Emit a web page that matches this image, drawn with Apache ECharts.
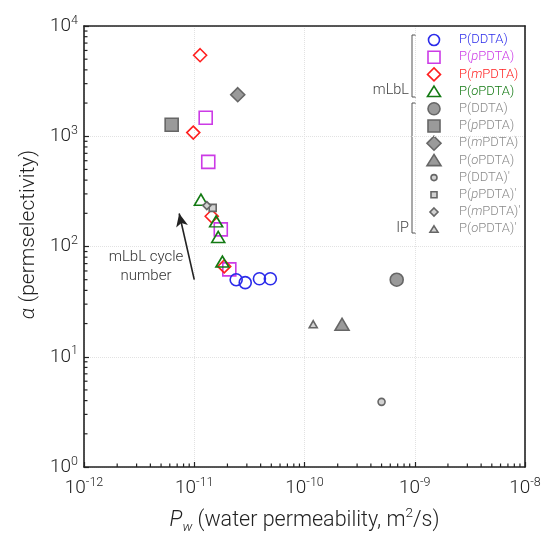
<!DOCTYPE html>
<html><head><meta charset="utf-8">
<script src="https://cdn.jsdelivr.net/npm/echarts@6/dist/echarts.min.js"></script>
<style>html,body{margin:0;padding:0;background:#fff}#c{width:546px;height:540px}</style>
</head><body><div id="c"></div>
<script>
// ---- data (x: water permeability m^2/s, y: permselectivity) ----
const mlblDDTA  = [[2.4e-11, 50], [2.9e-11, 47], [3.9e-11, 51], [4.9e-11, 51]];
const mlblPPDTA = [[1.27e-11, 1470], [1.34e-11, 585], [1.74e-11, 143], [2.08e-11, 62]];
const mlblMPDTA = [[1.13e-11, 5430], [9.8e-12, 1080], [1.44e-11, 188], [1.87e-11, 66]];
const mlblOPDTA = [[1.15e-11, 266], [1.58e-11, 169], [1.65e-11, 122], [1.80e-11, 73]];
const ipDDTA  = [[6.86e-10, 50]];
const ipPPDTA = [[6.24e-12, 1270]];
const ipMPDTA = [[2.48e-11, 2380]];
const ipOPDTA = [[2.19e-10, 19.7]];
const ipDDTAp  = [[5.0e-10, 3.9]];
const ipPPDTAp = [[1.47e-11, 224]];
const ipMPDTAp = [[1.30e-11, 235]];
const ipOPDTAp = [[1.20e-10, 19.7]];
const arrowPath = [[1.0e-11, 50], [7.3e-12, 199]];
const xTickExps = [-12, -11, -10, -9, -8];
const yTickExps = [0, 1, 2, 3, 4];
const legendLabels = [
  ['P(', '', 'DDTA)'], ['P(', 'p', 'PDTA)'], ['P(', 'm', 'PDTA)'], ['P(', 'o', 'PDTA)'],
  ['P(', '', 'DDTA)'], ['P(', 'p', 'PDTA)'], ['P(', 'm', 'PDTA)'], ['P(', 'o', 'PDTA)'],
  ["P(", '', "DDTA)'"], ["P(", 'p', "PDTA)'"], ["P(", 'm', "PDTA)'"], ["P(", 'o', "PDTA)'"]
];

const FONT = "'Helvetica Neue', Roboto, 'Liberation Sans', sans-serif";
const FW = 300;
const BLUE = '#2b2bea', MAG = '#cc3be6', RED = '#ff1f1f', GRN = '#137a13';
const GFILL = '#9a9a9a', GSTROKE = '#666666', SFILL = '#d2d2d2';

const chart = echarts.init(document.getElementById('c'), null, {renderer: 'canvas'});

function sc(name, data, symbol, size, fill, stroke, z) {
  return {
    type: 'scatter', name, data, symbol, symbolSize: size, z: z, silent: true,
    itemStyle: {color: fill, borderColor: stroke, borderWidth: 1.6, opacity: 1}
  };
}

// minor tick positions (log decades x 2..9)
const minorX = [], minorY = [];
for (let e = -12; e < -8; e++) for (let m = 2; m <= 9; m++) minorX.push([m * Math.pow(10, e), 1]);
for (let e = 0; e < 4; e++) for (let m = 2; m <= 9; m++) minorY.push([1e-12, m * Math.pow(10, e)]);

function tickSeries(data, horiz) {
  return {
    type: 'custom', silent: true, clip: false, z: 20, data,
    renderItem: (params, api) => {
      const p = api.coord([api.value(0), api.value(1)]);
      const shape = horiz ? {x1: p[0], y1: p[1], x2: p[0] + 3.5, y2: p[1]}
                          : {x1: p[0], y1: p[1], x2: p[0], y2: p[1] - 3.5};
      return {type: 'line', shape, style: {stroke: '#222', lineWidth: 1.2}};
    }
  };
}

function expLabel(v) {
  const e = Math.round(Math.log10(v));
  return '{b|10}{s|' + e + '}';
}
const labRich = {
  b: {fontSize: 19, fontFamily: FONT, fontWeight: FW, color: '#222', lineHeight: 24},
  s: {fontSize: 12.5, fontFamily: FONT, fontWeight: FW, color: '#222', lineHeight: 14, verticalAlign: 'top'}
};

// legend (graphic)
const legX = 434, legTX = 459, legY0 = 40, legDY = 17.2;
const legStyles = [
  {sym: 'circle', s: 12, fill: 'none', stroke: BLUE, col: BLUE},
  {sym: 'rect', s: 13, fill: 'none', stroke: MAG, col: MAG},
  {sym: 'diamond', s: 13, fill: 'none', stroke: RED, col: RED},
  {sym: 'triangle', s: 13, fill: 'none', stroke: GRN, col: GRN},
  {sym: 'circle', s: 13, fill: GFILL, stroke: GSTROKE, col: '#8a8a8a'},
  {sym: 'rect', s: 13, fill: GFILL, stroke: GSTROKE, col: '#8a8a8a'},
  {sym: 'diamond', s: 14, fill: GFILL, stroke: GSTROKE, col: '#8a8a8a'},
  {sym: 'triangle', s: 14, fill: GFILL, stroke: GSTROKE, col: '#8a8a8a'},
  {sym: 'circle', s: 7, fill: SFILL, stroke: GSTROKE, col: '#8a8a8a'},
  {sym: 'rect', s: 7, fill: SFILL, stroke: GSTROKE, col: '#8a8a8a'},
  {sym: 'diamond', s: 8, fill: SFILL, stroke: GSTROKE, col: '#8a8a8a'},
  {sym: 'triangle', s: 8, fill: SFILL, stroke: GSTROKE, col: '#8a8a8a'}
];
const graphics = [];
legStyles.forEach((st, i) => {
  const cy = legY0 + i * legDY, cx = legX, h = st.s / 2;
  const style = {fill: st.fill, stroke: st.stroke, lineWidth: 1.6};
  if (st.sym === 'circle') graphics.push({type: 'circle', shape: {cx, cy, r: h - 0.5}, style});
  else if (st.sym === 'rect') graphics.push({type: 'rect', shape: {x: cx - h + 0.5, y: cy - h + 0.5, width: st.s - 1, height: st.s - 1}, style});
  else if (st.sym === 'diamond') graphics.push({type: 'polygon', shape: {points: [[cx, cy - h], [cx + h, cy], [cx, cy + h], [cx - h, cy]]}, style});
  else graphics.push({type: 'polygon', shape: {points: [[cx, cy - h * 0.85], [cx + h, cy + h * 0.75], [cx - h, cy + h * 0.75]]}, style});
  const L = legendLabels[i];
  const txt = '{n|' + L[0] + '}' + (L[1] ? '{i|' + L[1] + '}' : '') + '{n|' + L[2] + '}';
  const base = {fill: st.col, fontSize: 13, fontFamily: FONT, fontWeight: FW};
  graphics.push({type: 'text', x: legTX, y: cy, style: {text: txt, verticalAlign: 'middle', align: 'left',
    rich: {n: base, i: Object.assign({}, base, {fontStyle: 'italic'})}}});
});
// brackets
function bracket(x, y1, y2) {
  graphics.push({type: 'polyline', shape: {points: [[x + 4, y1], [x, y1], [x, y2], [x + 4, y2]]},
    style: {stroke: '#555', lineWidth: 1, fill: 'none'}});
}
bracket(412, 35, 97);
bracket(412, 103, 233);
graphics.push({type: 'text', x: 409, y: 90, style: {text: 'mLbL', align: 'right', verticalAlign: 'middle', fill: '#444', fontSize: 14.5, fontFamily: FONT, fontWeight: FW}});
graphics.push({type: 'text', x: 409, y: 228, style: {text: 'IP', align: 'right', verticalAlign: 'middle', fill: '#444', fontSize: 14.5, fontFamily: FONT, fontWeight: FW}});
graphics.push({type: 'text', x: 146, y: 267, style: {text: 'mLbL cycle\nnumber', align: 'center', verticalAlign: 'middle', lineHeight: 19, fill: '#333', fontSize: 15, fontFamily: FONT, fontWeight: FW}});

const frameAxis = {show: true, lineStyle: {color: '#222', width: 1.6}};
const option = {
  backgroundColor: '#fff',
  animation: false,
  grid: {left: 84, right: 21, top: 26, bottom: 72, show: false},
  xAxis: [{
    type: 'log', logBase: 10, min: Math.pow(10, xTickExps[0]), max: Math.pow(10, xTickExps[xTickExps.length - 1]),
    axisLine: frameAxis,
    axisTick: {inside: true, length: 5, lineStyle: {color: '#222', width: 1.2}},
    axisLabel: {formatter: expLabel, rich: labRich, margin: 9},
    splitLine: {show: true, lineStyle: {color: '#e2e2e2', type: 'dotted', width: 1}},
    name: '{i|P}{sub|w}{n| (water permeability, m}{sup|2}{n|/s)}',
    nameLocation: 'middle', nameGap: 40,
    nameTextStyle: {
      rich: {
        n: {fontSize: 21.5, fontFamily: FONT, fontWeight: FW, color: '#222', lineHeight: 28},
        i: {fontSize: 21.5, fontFamily: FONT, fontWeight: FW, fontStyle: 'italic', color: '#222', lineHeight: 28},
        sub: {fontSize: 13.5, fontFamily: FONT, fontWeight: FW, fontStyle: 'italic', color: '#222', lineHeight: 12, verticalAlign: 'bottom'},
        sup: {fontSize: 13.5, fontFamily: FONT, fontWeight: FW, color: '#222', lineHeight: 14, verticalAlign: 'top'}
      }
    }
  }, {
    type: 'log', logBase: 10, position: 'top', min: Math.pow(10, xTickExps[0]), max: Math.pow(10, xTickExps[xTickExps.length - 1]),
    axisLine: frameAxis, axisTick: {show: false}, axisLabel: {show: false}, splitLine: {show: false}
  }],
  yAxis: [{
    type: 'log', logBase: 10, min: Math.pow(10, yTickExps[0]), max: Math.pow(10, yTickExps[yTickExps.length - 1]),
    axisLine: frameAxis,
    axisTick: {inside: true, length: 5, lineStyle: {color: '#222', width: 1.2}},
    axisLabel: {formatter: expLabel, rich: labRich, margin: 6},
    splitLine: {show: true, lineStyle: {color: '#e2e2e2', type: 'dotted', width: 1}},
    name: '{i|α}{n| (permselectivity)}',
    nameLocation: 'middle', nameGap: 45, nameRotate: 90,
    nameTextStyle: {
      padding: [0, 0, 0, 24],
      rich: {
        n: {fontSize: 21, fontFamily: FONT, fontWeight: FW, color: '#222'},
        i: {fontSize: 21, fontFamily: FONT, fontWeight: FW, fontStyle: 'italic', color: '#222'}
      }
    }
  }, {
    type: 'log', logBase: 10, position: 'right', min: Math.pow(10, yTickExps[0]), max: Math.pow(10, yTickExps[yTickExps.length - 1]),
    axisLine: frameAxis, axisTick: {show: false}, axisLabel: {show: false}, splitLine: {show: false}
  }],
  graphic: graphics,
  series: [
    tickSeries(minorX, false),
    tickSeries(minorY, true),
    sc('IP P(pPDTA)', ipPPDTA, 'rect', 13, GFILL, GSTROKE, 3),
    sc('IP P(mPDTA)', ipMPDTA, 'diamond', 14, GFILL, GSTROKE, 3),
    sc('IP P(DDTA)', ipDDTA, 'circle', 13, GFILL, GSTROKE, 3),
    sc('IP P(oPDTA)', ipOPDTA, 'triangle', [14, 12], GFILL, GSTROKE, 3),
    sc('mLbL P(pPDTA)', mlblPPDTA, 'rect', 13, 'rgba(0,0,0,0)', MAG, 4),
    sc('mLbL P(mPDTA)', mlblMPDTA, 'diamond', 13, 'rgba(0,0,0,0)', RED, 5),
    sc('mLbL P(oPDTA)', mlblOPDTA, 'triangle', [13, 11], 'rgba(0,0,0,0)', GRN, 6),
    sc('mLbL P(DDTA)', mlblDDTA, 'circle', 12, 'rgba(0,0,0,0)', BLUE, 7),
    sc("IP P(DDTA)'", ipDDTAp, 'circle', 7, SFILL, GSTROKE, 8),
    sc("IP P(pPDTA)'", ipPPDTAp, 'rect', 7, SFILL, GSTROKE, 8),
    sc("IP P(mPDTA)'", ipMPDTAp, 'diamond', 8, SFILL, GSTROKE, 8),
    sc("IP P(oPDTA)'", ipOPDTAp, 'triangle', [8, 7], SFILL, GSTROKE, 8),
    {
      type: 'line', data: [], silent: true,
      markLine: {
        silent: true, symbol: ['none', 'arrow'], symbolSize: [9, 13], animation: false,
        label: {show: false},
        lineStyle: {color: '#222', width: 1.6, type: 'solid'},
        data: [[{coord: arrowPath[0]}, {coord: arrowPath[1]}]]
      }
    }
  ]
};
chart.setOption(option);
</script></body></html>
